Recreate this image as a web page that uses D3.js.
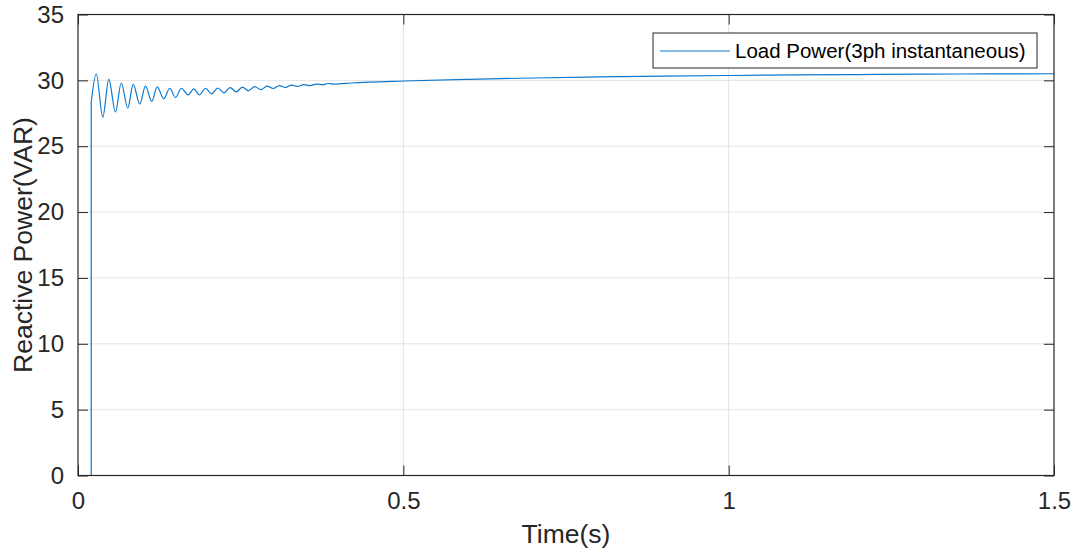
<!DOCTYPE html>
<html>
<head>
<meta charset="utf-8">
<script src="https://cdn.jsdelivr.net/npm/d3@7"></script>
<style>
  body { margin: 0; background: #fff; }
  svg { font-family: "Liberation Sans", Arial, Helvetica, sans-serif; }
</style>
</head>
<body>
<svg id="chart" width="1078" height="553"></svg>
<script>
// step at switch-on (time s, reactive power VAR)
var stepT = [0, 0.0203, 0.0203];
var stepV = [0, 0, 28.3];

// damped ringing (extrema), then the slow settle
var waveT = [0.0203, 0.0280, 0.0381, 0.0473, 0.0576, 0.0664, 0.0765, 0.0848, 0.0949, 0.1037,
             0.1134, 0.1217, 0.1318, 0.1410, 0.1498, 0.1590, 0.1693, 0.1779, 0.1866, 0.1960,
             0.2055, 0.2149, 0.2244, 0.2338, 0.2433, 0.2527, 0.2622, 0.2716, 0.2811, 0.2905,
             0.3000, 0.3094, 0.3189, 0.3283, 0.3378, 0.3472, 0.3567, 0.3661, 0.3756, 0.3850,
             0.3945, 0.42, 0.5, 0.6, 0.7, 0.8, 0.9, 1.0, 1.1, 1.2, 1.3, 1.4, 1.5];
var waveV = [28.3, 30.5, 27.2, 30.07, 27.6, 29.8, 27.9, 29.7, 28.2, 29.56,
             28.4, 29.5, 28.6, 29.4, 28.7, 29.4, 28.9, 29.35, 28.9, 29.4,
             28.98, 29.42, 29.05, 29.45, 29.13, 29.48, 29.22, 29.52, 29.30, 29.56,
             29.38, 29.60, 29.46, 29.64, 29.54, 29.68, 29.60, 29.72, 29.66, 29.76,
             29.72, 29.80, 29.95, 30.08, 30.18, 30.26, 30.32, 30.37, 30.41, 30.44, 30.47, 30.49, 30.5];

var xTicks = [0, 0.5, 1, 1.5];
var xTickLabels = ["0", "0.5", "1", "1.5"];
var yTicks = [0, 5, 10, 15, 20, 25, 30, 35];
var seriesName = "Load Power(3ph instantaneous)";

(function() {
  var svg = d3.select("#chart");
  var pL = 78, pR = 1054, pT = 14.5, pB = 475.5;
  var axisColor = "#262626", gridColor = "#e3e3e3", lineColor = "#0b78cf";

  var x = d3.scaleLinear().domain([0, 1.5]).range([pL, pR]);
  var y = d3.scaleLinear().domain([0, 35]).range([pB, pT]);

  // grid
  svg.append("g").selectAll("line").data(xTicks.slice(1, -1)).enter().append("line")
    .attr("x1", function(d) { return x(d); }).attr("x2", function(d) { return x(d); })
    .attr("y1", pT).attr("y2", pB)
    .attr("stroke", gridColor).attr("stroke-width", 1);
  svg.append("g").selectAll("line").data(yTicks.slice(1, -1)).enter().append("line")
    .attr("x1", pL).attr("x2", pR)
    .attr("y1", function(d) { return y(d); }).attr("y2", function(d) { return y(d); })
    .attr("stroke", gridColor).attr("stroke-width", 1);

  // data
  svg.append("clipPath").attr("id", "plotclip").append("rect")
    .attr("x", pL).attr("y", pT).attr("width", pR - pL).attr("height", pB - pT);

  var stepLine = d3.line().x(function(d) { return x(d[0]); }).y(function(d) { return y(d[1]); });
  var waveLine = d3.line().x(function(d) { return x(d[0]); }).y(function(d) { return y(d[1]); })
    .curve(d3.curveMonotoneX);

  svg.append("path").datum(d3.zip(stepT, stepV)).attr("d", stepLine)
    .attr("fill", "none").attr("stroke", lineColor).attr("stroke-width", 1.2)
    .attr("clip-path", "url(#plotclip)");
  svg.append("path").datum(d3.zip(waveT, waveV)).attr("d", waveLine)
    .attr("fill", "none").attr("stroke", lineColor).attr("stroke-width", 1.2)
    .attr("clip-path", "url(#plotclip)");

  // axes, ticks inward on all four sides
  var tl = 10;
  var xa = d3.axisBottom(x).tickValues(xTicks).tickSize(-tl).tickPadding(16)
    .tickFormat(function(d, i) { return xTickLabels[i]; });
  var ya = d3.axisLeft(y).tickValues(yTicks).tickSize(-tl).tickPadding(14);

  function styleAxis(g) {
    g.select(".domain").remove();
    g.selectAll("line").attr("stroke", axisColor);
    g.selectAll("text").attr("fill", axisColor).style("font-size", "24px");
  }
  svg.append("g").attr("transform", "translate(0," + pB + ")").call(xa).call(styleAxis);
  svg.append("g").attr("transform", "translate(" + pL + ",0)").call(ya).call(styleAxis);
  svg.append("g").attr("transform", "translate(0," + pT + ")")
    .call(d3.axisTop(x).tickValues(xTicks).tickSize(-tl).tickFormat(""))
    .call(styleAxis);
  svg.append("g").attr("transform", "translate(" + pR + ",0)")
    .call(d3.axisRight(y).tickValues(yTicks).tickSize(-tl).tickFormat(""))
    .call(styleAxis);

  svg.append("rect").attr("x", pL).attr("y", pT)
    .attr("width", pR - pL).attr("height", pB - pT)
    .attr("fill", "none").attr("stroke", axisColor).attr("stroke-width", 1.2);

  // labels
  svg.append("text").attr("x", (pL + pR) / 2).attr("y", 543)
    .attr("text-anchor", "middle").attr("fill", axisColor).style("font-size", "26.5px")
    .text("Time(s)");
  svg.append("text").attr("transform", "translate(32," + ((pT + pB) / 2) + ") rotate(-90)")
    .attr("text-anchor", "middle").attr("fill", axisColor).style("font-size", "26.5px")
    .text("Reactive Power(VAR)");

  // legend
  var lg = svg.append("g");
  lg.append("rect").attr("x", 653).attr("y", 33).attr("width", 384).attr("height", 35)
    .attr("fill", "#fff").attr("stroke", axisColor).attr("stroke-width", 1);
  lg.append("line").attr("x1", 660).attr("x2", 730).attr("y1", 51).attr("y2", 51)
    .attr("stroke", lineColor).attr("stroke-width", 1.2);
  lg.append("text").attr("x", 735).attr("y", 58).attr("fill", "#000")
    .style("font-size", "20.5px").text(seriesName);
})();
</script>
</body>
</html>
